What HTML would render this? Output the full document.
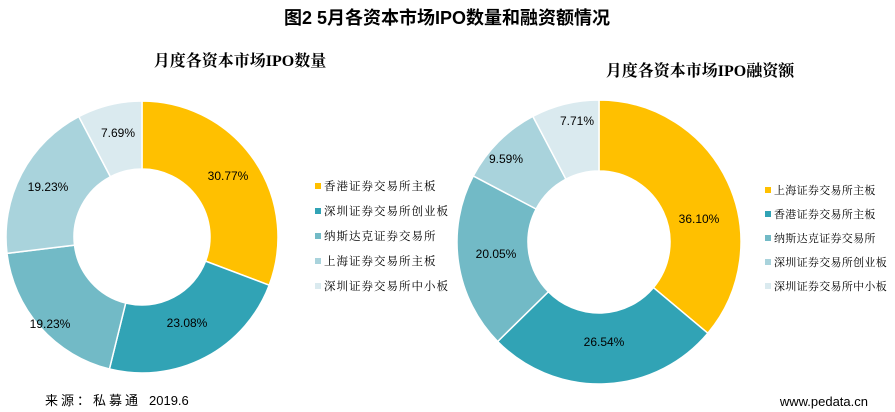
<!DOCTYPE html>
<html><head><meta charset="utf-8"><style>
body{margin:0;background:#fff;}
svg{display:block;font-family:"Liberation Sans","Noto Sans CJK SC",sans-serif;}
</style></head><body>
<svg id="s" width="895" height="412" viewBox="0 0 895 412">
<text x="447" y="24" text-anchor="middle" font-size="18" font-weight="bold" font-family="Liberation Sans,'Noto Sans CJK SC',sans-serif">图2 5月各资本市场IPO数量和融资额情况</text>
<text x="240" y="66" text-anchor="middle" font-size="16" font-weight="bold" font-family="Liberation Serif,'Noto Serif CJK SC',serif">月度各资本市场IPO数量</text>
<text x="700" y="76" text-anchor="middle" font-size="16" font-weight="bold" font-family="Liberation Serif,'Noto Serif CJK SC',serif">月度各资本市场IPO融资额</text>
<g id="g"></g>
<text x="45" y="405" font-size="13"><tspan letter-spacing="3">来源：私募通</tspan><tspan dx="8">2019.6</tspan></text>
<text x="868" y="406" text-anchor="end" font-size="13">www.pedata.cn</text>
</svg>
<script>
var C=["#FFC000","#31A3B5","#72BAC6","#A9D3DC","#DAEAEF"];
var g=document.getElementById("g"),h="";
function donut(cx,cy,R,r,vals,labels,pos){
 var a=-Math.PI/2,tot=vals.reduce(function(s,v){return s+v},0);
 vals.forEach(function(v,i){
  var b=a+v/tot*2*Math.PI,l=(b-a)>Math.PI?1:0;
  function p(rr,t){return (cx+rr*Math.cos(t)).toFixed(2)+","+(cy+rr*Math.sin(t)).toFixed(2)}
  h+='<path d="M'+p(R,a)+'A'+R+','+R+' 0 '+l+' 1 '+p(R,b)+'L'+p(r,b)+'A'+r+','+r+' 0 '+l+' 0 '+p(r,a)+'Z" fill="'+C[i]+'" stroke="#fff" stroke-width="1.5"/>';
  h+='<text x="'+pos[i][0]+'" y="'+pos[i][1]+'" text-anchor="middle" font-size="12">'+labels[i]+'</text>';
  a=b;});
}
function legend(x,y0,dy,names,fs,ls){
 names.forEach(function(n,i){var y=y0+i*dy;
  h+='<rect x="'+x+'" y="'+(y-7)+'" width="6" height="6" fill="'+C[i]+'"/>';
  h+='<text x="'+(x+9)+'" y="'+y+'" font-size="'+fs+'" letter-spacing="'+ls+'" font-family="Liberation Serif,\'Noto Serif CJK SC\',serif">'+n+'</text>';});
}
donut(142,237,136,68,[30.77,23.08,19.23,19.23,7.69],["30.77%","23.08%","19.23%","19.23%","7.69%"],[[228,180],[187,327],[50,328],[48,191],[118,137]]);
donut(599,242,142,71,[36.10,26.54,20.05,9.59,7.71],["36.10%","26.54%","20.05%","9.59%","7.71%"],[[699,223],[604,346],[496,258],[506,163],[577,125]]);
legend(315,190,25,["香港证券交易所主板","深圳证券交易所创业板","纳斯达克证券交易所","上海证券交易所主板","深圳证券交易所中小板"],11.5,1);
legend(765,194,24,["上海证券交易所主板","香港证券交易所主板","纳斯达克证券交易所","深圳证券交易所创业板","深圳证券交易所中小板"],11,0.3);
g.innerHTML=h;
</script>
</body></html>
